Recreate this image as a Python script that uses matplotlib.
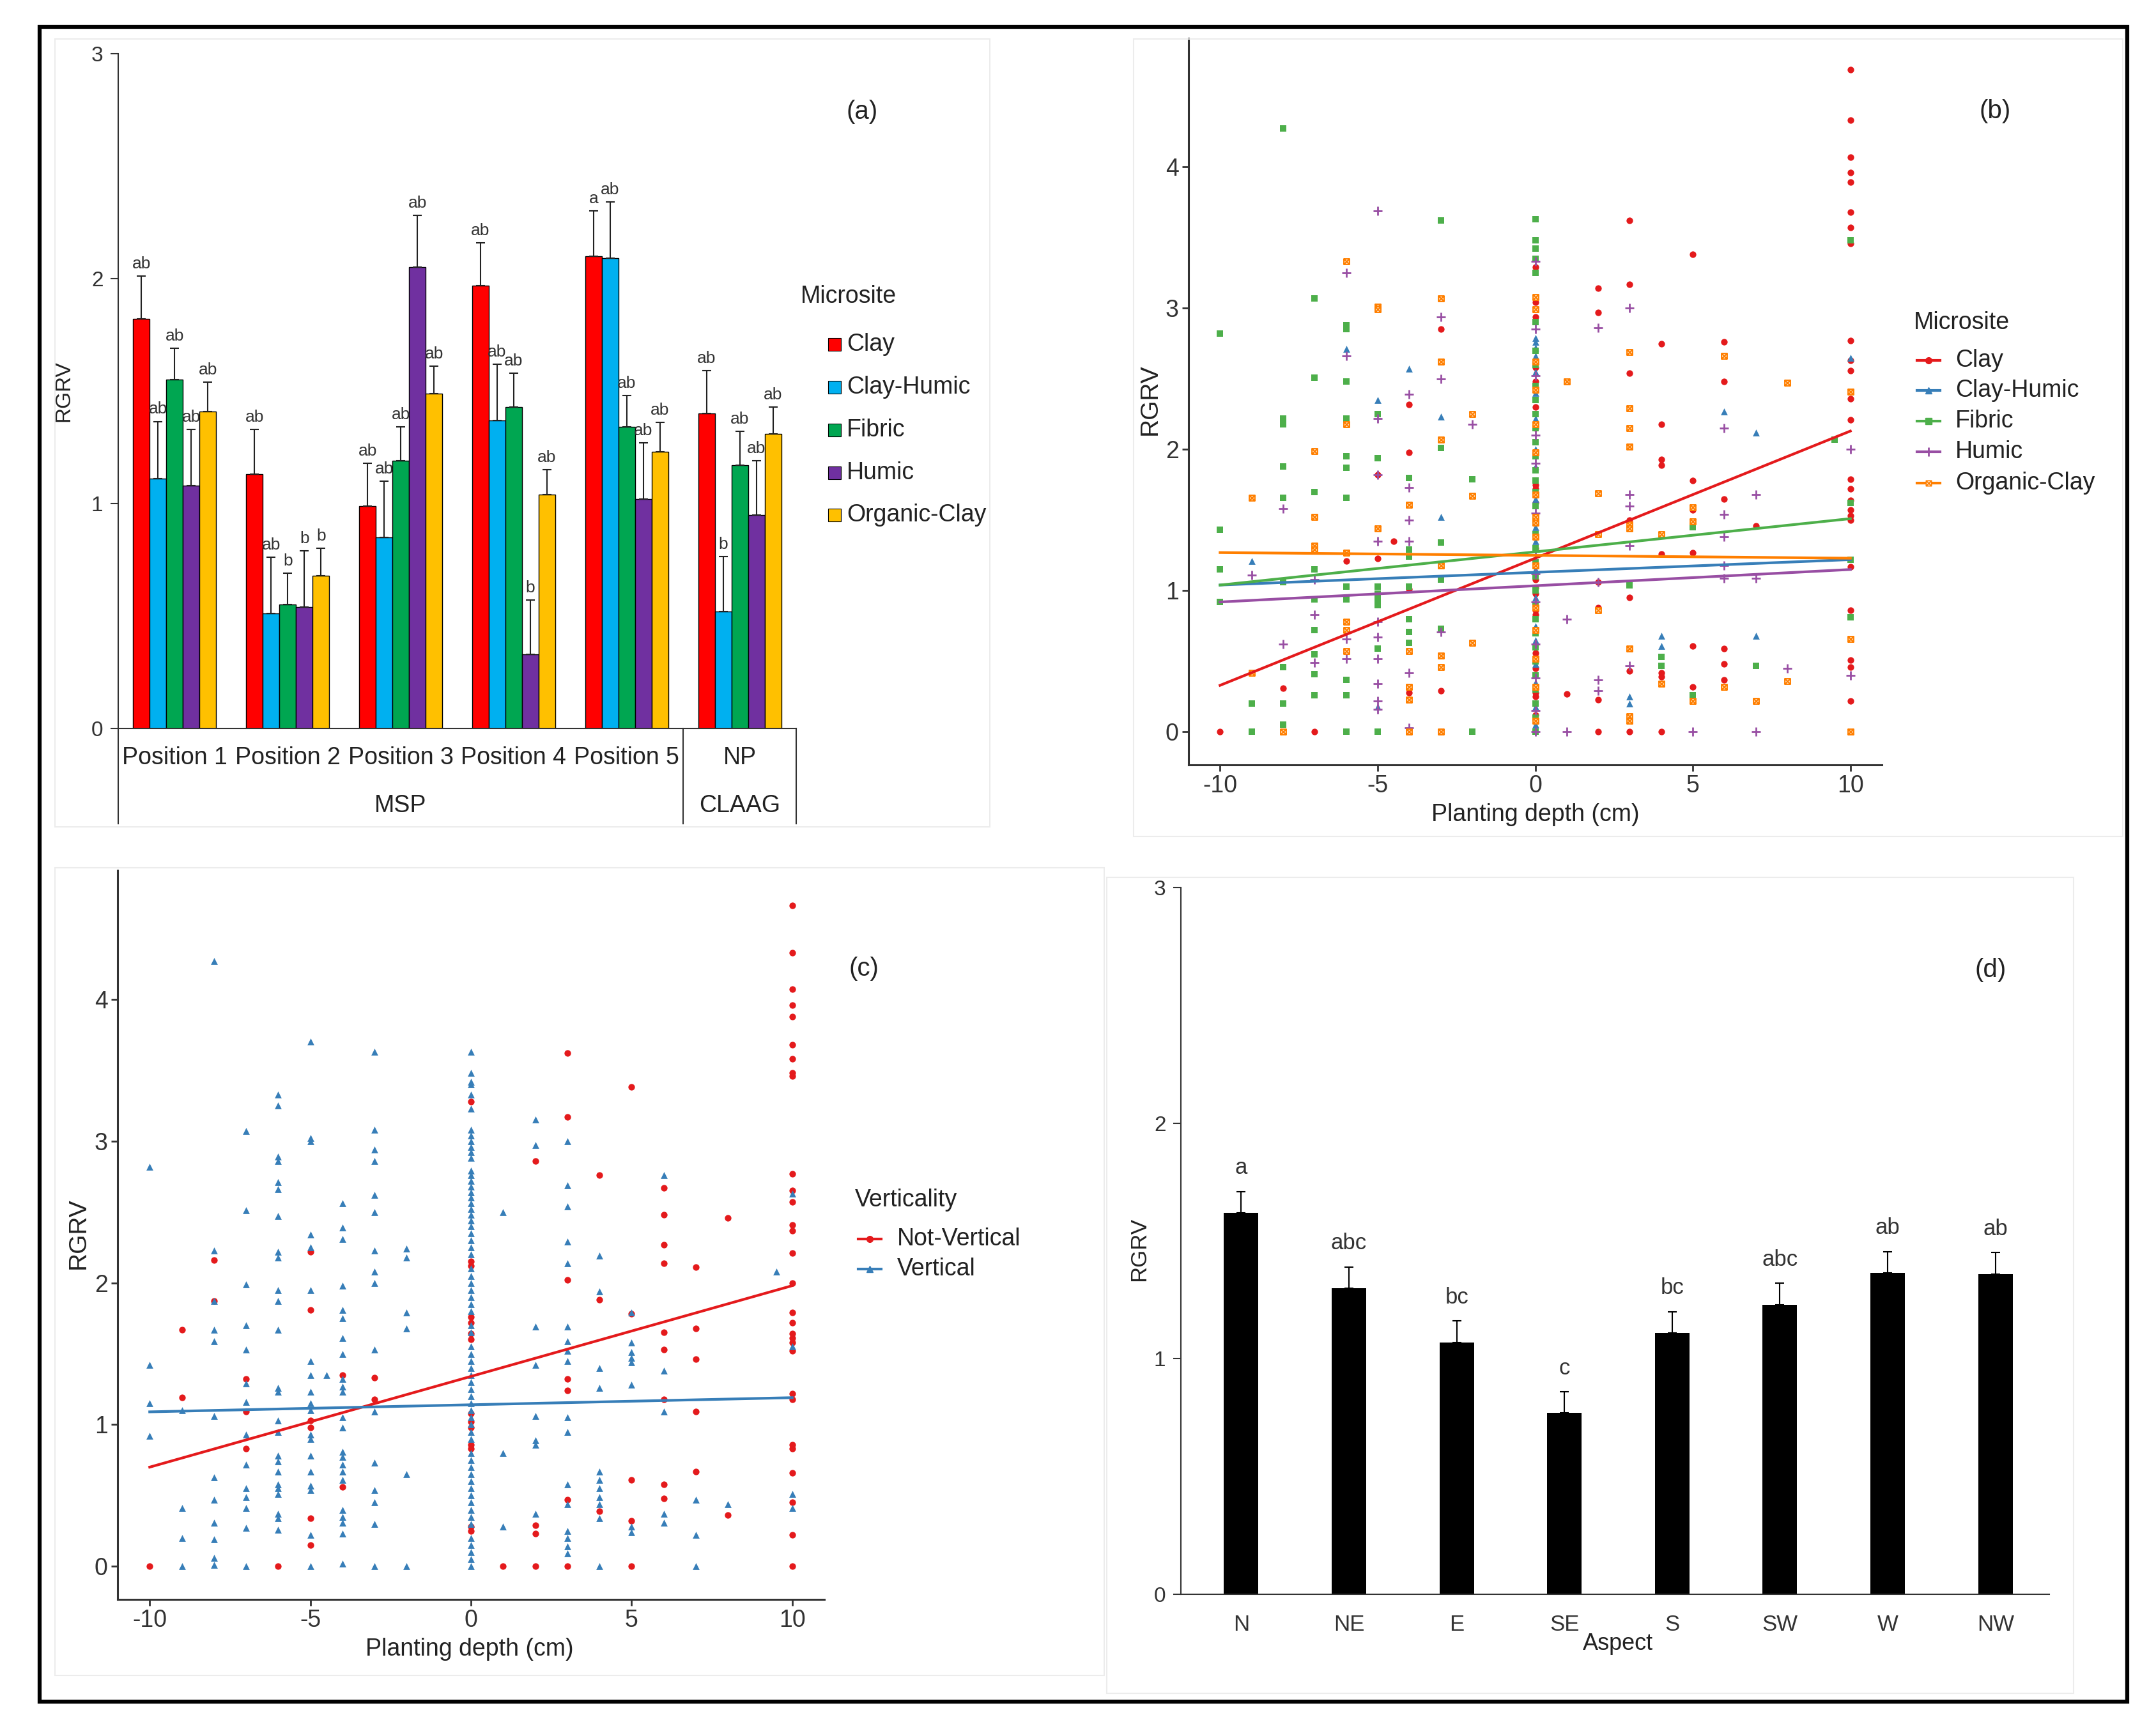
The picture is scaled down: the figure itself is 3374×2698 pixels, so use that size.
import matplotlib
matplotlib.use('Agg')
import matplotlib.pyplot as plt
from matplotlib.patches import Rectangle
from matplotlib.lines import Line2D
from matplotlib.path import Path
import matplotlib.transforms as mtransforms
import numpy as np

plt.rcParams['font.family'] = ['Liberation Sans', 'DejaVu Sans']
plt.rcParams['axes.unicode_minus'] = False

# ---------------- DATA ----------------
# Panel (a)
groups_a = ['Position 1', 'Position 2', 'Position 3', 'Position 4', 'Position 5', 'NP']
microsites = ['Clay', 'Clay-Humic', 'Fibric', 'Humic', 'Organic-Clay']
a_clay = [1.82, 1.13, 0.99, 1.97, 2.10, 1.40]
a_clayhumic = [1.11, 0.51, 0.85, 1.37, 2.09, 0.52]
a_fibric = [1.55, 0.55, 1.19, 1.43, 1.34, 1.17]
a_humic = [1.08, 0.54, 2.05, 0.33, 1.02, 0.95]
a_orgclay = [1.41, 0.68, 1.49, 1.04, 1.23, 1.31]
a_clay_err = [0.19, 0.20, 0.19, 0.19, 0.20, 0.19]
a_clayhumic_err = [0.255, 0.25, 0.25, 0.25, 0.25, 0.245]
a_fibric_err = [0.14, 0.14, 0.15, 0.15, 0.14, 0.15]
a_humic_err = [0.25, 0.25, 0.23, 0.24, 0.25, 0.24]
a_orgclay_err = [0.13, 0.12, 0.12, 0.11, 0.13, 0.12]
a_clay_let = ['ab', 'ab', 'ab', 'ab', 'a', 'ab']
a_clayhumic_let = ['ab', 'ab', 'ab', 'ab', 'ab', 'b']
a_fibric_let = ['ab', 'b', 'ab', 'ab', 'ab', 'ab']
a_humic_let = ['ab', 'b', 'ab', 'b', 'ab', 'ab']
a_orgclay_let = ['ab', 'b', 'ab', 'ab', 'ab', 'ab']

# Panel (b) scatter, by microsite
clay_x = [-10, -8, -7, -6, -5, -5, -4.5, -4, -4, -4, -4, -3, -3, -3,
          0, 0, 0, 0, 0, 0, 0, 0, 0, 0, 0, 0, 0, 0, 0, 0, 0, 0, 0, 0, 0,
          1, 2, 2, 2, 2, 2, 2, 3, 3, 3, 3, 3, 3, 3,
          4, 4, 4, 4, 4, 4, 4, 4, 5, 5, 5, 5, 5, 5, 6, 6, 6, 6, 6, 6, 7,
          10, 10, 10, 10, 10, 10, 10, 10, 10, 10, 10, 10, 10, 10, 10, 10, 10, 10, 10, 10, 10, 10, 10, 10]
clay_y = [0, 0.31, 0, 1.21, 1.82, 1.23, 1.35, 2.32, 1.98, 1.01, 0.28, 2.85, 0.29, 0,
          3.29, 3.04, 2.94, 2.58, 2.48, 2.30, 2.15, 1.75, 1.72, 1.62, 1.30, 1.08, 1.02, 0.98, 0.86, 0.83, 0.56, 0.45, 0.28, 0.25, 0.12,
          0.27, 3.14, 2.97, 1.06, 0.88, 0.23, 0, 3.62, 3.17, 2.54, 1.50, 0.95, 0.43, 0,
          2.75, 2.18, 1.93, 1.89, 1.26, 0.42, 0.39, 0, 3.38, 1.78, 1.57, 1.27, 0.61, 0.32, 2.76, 2.48, 1.65, 0.59, 0.48, 0.37, 1.46,
          4.69, 4.33, 4.07, 3.96, 3.89, 3.68, 3.57, 3.46, 2.77, 2.63, 2.56, 2.36, 2.21, 1.79, 1.72, 1.64, 1.57, 1.53, 1.50, 1.17, 0.86, 0.51, 0.46, 0.22]
clayhumic_x = [-9, -6, -5, -5, -4, -3, -3,
               0, 0, 0, 0, 0, 0, 0, 0, 0, 0, 0, 0, 0, 0, 0, 0, 0, 0, 0, 0,
               3, 3, 4, 4, 6, 7, 7, 10]
clayhumic_y = [1.21, 2.71, 2.35, 0.18, 2.57, 2.23, 1.52,
               2.79, 2.76, 2.72, 2.66, 2.55, 2.40, 2.22, 2.00, 1.88, 1.65, 1.45, 1.35, 1.15, 0.95, 0.75, 0.65, 0.48, 0.35, 0.18, 0.05,
               0.25, 0.20, 0.68, 0.61, 2.27, 2.12, 0.68, 2.65]
fibric_x = [-10, -10, -10, -10, -9, -9,
            -8, -8, -8, -8, -8, -8, -8, -8, -8,
            -7, -7, -7, -7, -7, -7, -7, -7, -7,
            -6, -6, -6, -6, -6, -6, -6, -6, -6, -6, -6, -6,
            -5, -5, -5, -5, -5, -5, -5, -5,
            -4, -4, -4, -4, -4, -4, -4, -3, -3, -3, -3, -3, -2, -2,
            0, 0, 0, 0, 0, 0, 0, 0, 0, 0, 0, 0, 0, 0, 0, 0, 0, 0, 0, 0, 0, 0, 0, 0, 0, 0, 0, 0, 0, 0, 0, 0, 0, 0,
            3, 4, 4, 5, 5, 7, 9.5, 10, 10, 10, 10]
fibric_y = [2.82, 1.43, 1.15, 0.92, 0.20, 0,
            4.27, 2.22, 2.18, 1.88, 1.66, 1.06, 0.46, 0.20, 0.05,
            3.07, 2.51, 1.70, 1.15, 0.94, 0.72, 0.55, 0.41, 0.26,
            2.88, 2.85, 2.48, 2.22, 1.95, 1.87, 1.66, 1.03, 0.94, 0.37, 0.26, 0,
            2.25, 1.94, 1.03, 0.98, 0.94, 0.90, 0.59, 0,
            1.80, 1.29, 1.24, 1.03, 0.80, 0.71, 0.63, 3.62, 2.01, 1.34, 1.08, 0.73, 1.79, 0,
            3.63, 3.48, 3.42, 3.35, 3.25, 2.90, 2.70, 2.60, 2.45, 2.35, 2.25, 2.15, 2.05, 1.95, 1.85, 1.78, 1.70, 1.60,
            1.50, 1.40, 1.30, 1.20, 1.10, 1.00, 0.90, 0.80, 0.70, 0.60, 0.50, 0.40, 0.30, 0.20, 0.10, 0.0,
            1.04, 0.53, 0.47, 1.45, 0.26, 0.47, 2.07, 3.48, 1.62, 1.22, 0.81]
humic_x = [-9, -8, -8, -7, -7, -7, -6, -6, -6, -6,
           -5, -5, -5, -5, -5, -5, -5, -5, -5, -5,
           -4, -4, -4, -4, -4, -4, -3, -3, -3, -2,
           0, 0, 0, 0, 0, 0, 0, 0, 0, 0, 0, 0, 0,
           1, 1, 2, 2, 2, 2, 3, 3, 3, 3, 3, 5, 6, 6, 6, 6, 6, 7, 7, 7, 8, 10, 10]
humic_y = [1.11, 1.58, 0.62, 1.08, 0.83, 0.49, 3.25, 2.66, 0.66, 0.52,
           3.69, 2.22, 1.82, 1.35, 0.78, 0.67, 0.52, 0.34, 0.22, 0.16,
           2.39, 1.73, 1.50, 1.35, 0.42, 0.03, 2.94, 2.50, 0.71, 2.18,
           3.33, 2.85, 2.52, 2.10, 1.90, 1.55, 1.25, 1.12, 0.92, 0.62, 0.38, 0.15, 0.0,
           0.80, 0, 2.86, 1.06, 0.37, 0.29, 3.00, 1.68, 1.60, 1.32, 0.47, 0, 2.15, 1.54, 1.38, 1.18, 1.09, 1.68, 1.09, 0, 0.45, 2.00, 0.40]
orgclay_x = [-9, -9, -8, -7, -7, -7, -7, -6, -6, -6, -6, -6, -6, -5, -5, -5,
             -4, -4, -4, -4, -4, -3, -3, -3, -3, -3, -3, -3, -2, -2, -2,
             0, 0, 0, 0, 0, 0, 0, 0, 0, 0, 0, 0, 0, 0, 0, 0,
             1, 2, 2, 2, 3, 3, 3, 3, 3, 3, 3, 3, 3, 4, 4, 5, 5, 5, 6, 6, 7, 8, 8, 10, 10, 10]
orgclay_y = [1.66, 0.42, 0, 1.99, 1.52, 1.32, 1.29, 3.33, 2.18, 1.27, 0.78, 0.72, 0.57, 3.01, 2.99, 1.44,
             1.61, 0.57, 0.32, 0.23, 0, 3.07, 2.62, 2.07, 1.18, 0.54, 0.46, 0, 2.25, 1.67, 0.63,
             3.08, 2.99, 2.62, 2.42, 2.18, 1.98, 1.68, 1.52, 1.48, 1.38, 1.18, 0.88, 0.72, 0.52, 0.32, 0.08,
             2.48, 1.69, 1.40, 0.86, 2.69, 2.29, 2.15, 2.02, 1.47, 1.44, 0.59, 0.11, 0.08, 1.40, 0.34, 1.59, 1.49, 0.22,
             2.66, 0.32, 0.22, 2.47, 0.36, 2.41, 0.66, 0]
b_fit_intercept = [1.23, 1.13, 1.275, 1.035, 1.25]
b_fit_slope = [0.090, 0.009, 0.0235, 0.0115, -0.002]

# Panel (c) scatter, by verticality
nv_x = [-10, -9, -9, -8, -8, -7, -7, -7, -6, -5, -5, -5, -5, -5, -5, -4, -4, -3, -3,
        0, 0, 0, 0, 0, 0, 0, 0, 0, 0, 0, 0, 0, 0,
        1, 2, 2, 2, 2, 3, 3, 3, 3, 3, 3, 3, 4, 4, 4, 5, 5, 5, 5, 5,
        6, 6, 6, 6, 6, 6, 6, 6, 6, 7, 7, 7, 7, 7, 8, 8,
        10, 10, 10, 10, 10, 10, 10, 10, 10, 10, 10, 10, 10, 10, 10, 10, 10, 10, 10, 10, 10, 10, 10, 10, 10, 10, 10, 10, 10, 10]
nv_y = [0, 1.67, 1.19, 2.16, 1.87, 1.32, 1.09, 0.83, 0, 2.22, 1.81, 1.03, 0.98, 0.34, 0.15, 1.35, 0.56, 1.33, 1.18,
        3.28, 2.15, 2.12, 1.76, 1.72, 1.64, 1.60, 1.08, 1.02, 0.98, 0.86, 0.83, 0.28, 0.25,
        0, 2.86, 0.29, 0.23, 0, 3.62, 3.17, 2.02, 1.32, 1.24, 0.47, 0, 2.76, 1.88, 0.39, 3.38, 1.78, 0.61, 0.32, 0,
        2.67, 2.48, 2.27, 2.14, 1.65, 1.53, 1.18, 0.58, 0.48, 2.11, 1.68, 1.46, 1.09, 0.67, 2.46, 0.36,
        4.66, 4.33, 4.07, 3.96, 3.88, 3.68, 3.58, 3.48, 3.46, 2.77, 2.65, 2.57, 2.41, 2.37, 2.21, 2.00,
        1.79, 1.72, 1.64, 1.61, 1.58, 1.52, 1.22, 1.18, 0.86, 0.83, 0.66, 0.45, 0.22, 0]
v_x = [-10, -10, -10, -10, -9, -9, -9, -9,
       -8, -8, -8, -8, -8, -8, -8, -8, -8, -8, -8, -8,
       -7, -7, -7, -7, -7, -7, -7, -7, -7, -7, -7, -7, -7, -7,
       -6, -6, -6, -6, -6, -6, -6, -6, -6, -6, -6, -6, -6, -6, -6, -6, -6, -6, -6, -6, -6, -6, -6, -6, -6,
       -5, -5, -5, -5, -5, -5, -5, -5, -5, -5, -5, -5, -5, -5, -5, -5, -5, -5, -5, -4.5,
       -4, -4, -4, -4, -4, -4, -4, -4, -4, -4, -4, -4, -4, -4, -4, -4, -4, -4, -4, -4, -4, -4, -4,
       -3, -3, -3, -3, -3, -3, -3, -3, -3, -3, -3, -3, -3, -3, -3, -3,
       -2, -2, -2, -2, -2, -2,
       0, 0, 0, 0, 0, 0, 0, 0, 0, 0, 0, 0, 0, 0, 0, 0, 0, 0, 0, 0, 0, 0, 0, 0, 0, 0, 0, 0, 0, 0, 0, 0, 0,
       0, 0, 0, 0, 0, 0, 0, 0, 0, 0, 0, 0, 0, 0, 0, 0, 0, 0, 0, 0, 0, 0, 0, 0, 0, 0, 0, 0, 0, 0, 0, 0, 0,
       1, 1, 1, 2, 2, 2, 2, 2, 2, 2, 2,
       3, 3, 3, 3, 3, 3, 3, 3, 3, 3, 3, 3, 3, 3, 3, 3, 3,
       4, 4, 4, 4, 4, 4, 4, 4, 4, 4, 4, 5, 5, 5, 5, 5, 5, 5, 5,
       6, 6, 6, 6, 6, 7, 7, 7, 8, 9.5, 10, 10, 10, 10]
v_y = [2.82, 1.42, 1.15, 0.92, 1.10, 0.41, 0.20, 0,
       4.27, 2.23, 1.87, 1.67, 1.59, 1.06, 0.63, 0.47, 0.31, 0.19, 0.06, 0.01,
       3.07, 2.51, 1.99, 1.70, 1.53, 1.29, 1.16, 0.93, 0.72, 0.55, 0.49, 0.41, 0.27, 0,
       3.33, 3.25, 2.89, 2.86, 2.71, 2.66, 2.47, 2.22, 2.18, 1.95, 1.87, 1.67, 1.26, 1.23, 1.03, 0.95, 0.78, 0.74, 0.67,
       0.58, 0.55, 0.51, 0.37, 0.34, 0.26,
       3.70, 3.02, 3.00, 2.34, 2.25, 1.95, 1.45, 1.35, 1.23, 1.15, 1.10, 0.93, 0.90, 0.78, 0.67, 0.57, 0.54, 0.22, 0, 1.35,
       2.56, 2.39, 2.31, 1.98, 1.81, 1.75, 1.61, 1.50, 1.32, 1.27, 1.23, 1.05, 0.98, 0.81, 0.77, 0.72, 0.67, 0.61, 0.40,
       0.35, 0.31, 0.23, 0.02,
       3.63, 3.08, 2.94, 2.86, 2.62, 2.50, 2.23, 2.08, 2.00, 1.53, 1.09, 0.73, 0.54, 0.45, 0.30, 0,
       2.24, 2.18, 1.79, 1.68, 0.65, 0,
       3.63, 3.48, 3.42, 3.40, 3.33, 3.23, 3.08, 3.04, 3.00, 2.96, 2.92, 2.88, 2.79, 2.76, 2.72, 2.68, 2.64, 2.60, 2.56,
       2.52, 2.48, 2.44, 2.40, 2.35, 2.30, 2.25, 2.20, 2.10, 2.05, 2.00, 1.95, 1.90, 1.85,
       1.80, 1.70, 1.65, 1.55, 1.50, 1.45, 1.40, 1.35, 1.30, 1.25, 1.20, 1.15, 1.10, 1.05, 1.00, 0.95, 0.90, 0.80,
       0.75, 0.70, 0.65, 0.60, 0.55, 0.50, 0.45, 0.40, 0.35, 0.30, 0.20, 0.15, 0.10, 0.05, 0.0,
       2.50, 0.80, 0.28, 3.15, 2.97, 1.69, 1.42, 1.06, 0.89, 0.86, 0.37,
       3.00, 2.69, 2.54, 2.29, 2.14, 1.69, 1.59, 1.52, 1.45, 1.05, 0.95, 0.58, 0.44, 0.25, 0.20, 0.14, 0.09,
       2.19, 1.94, 1.40, 1.26, 0.67, 0.61, 0.55, 0.49, 0.44, 0.34, 0, 1.79, 1.58, 1.51, 1.47, 1.44, 1.28, 0.28, 0.24,
       2.76, 1.38, 1.09, 0.37, 0.31, 0.47, 0.22, 0, 0.44, 2.08, 2.63, 1.55, 0.51, 0.41]
verticality = ['Not-Vertical', 'Vertical']
c_fit_intercept = [1.34, 1.14]
c_fit_slope = [0.064, 0.005]

# Panel (d)
aspects = ['N', 'NE', 'E', 'SE', 'S', 'SW', 'W', 'NW']
d_vals = [1.62, 1.30, 1.07, 0.77, 1.11, 1.23, 1.365, 1.36]
d_err = [0.09, 0.09, 0.09, 0.09, 0.09, 0.09, 0.09, 0.09]
d_letters = ['a', 'abc', 'bc', 'c', 'bc', 'abc', 'ab', 'ab']

# ---------------- STYLE / LAYOUT ----------------
W, H = 3374, 2698
fig = plt.figure(figsize=(W / 100, H / 100), dpi=100)
fig.patch.set_facecolor('white')


def fx(px):
    return px / W


def fy(py):
    return 1 - py / H


def axes_px(left, top, right, bottom):
    return fig.add_axes([fx(left), fy(bottom), (right - left) / W, (bottom - top) / H])


# outer frame and faint panel boxes
fig.add_artist(Rectangle((fx(62), fy(2663)), (3329 - 62) / W, (2663 - 42) / H, transform=fig.transFigure,
                         fill=False, edgecolor='black', lw=4.5))
for (l, t, r, b) in [(86, 61, 1549, 1294), (1774, 61, 3322, 1309), (86, 1358, 1728, 2622), (1732, 1373, 3245, 2650)]:
    fig.add_artist(Rectangle((fx(l), fy(b)), (r - l) / W, (b - t) / H, transform=fig.transFigure,
                             fill=False, edgecolor='#ececec', lw=1.5))

TXT = '#222222'

# ---------------- Panel (a) ----------------
bar_colors_a = ['#FF0000', '#00B0F0', '#00A651', '#7030A0', '#FFC000']
axa = axes_px(185, 84, 1246, 1140)
vals_a = [a_clay, a_clayhumic, a_fibric, a_humic, a_orgclay]
errs_a = [a_clay_err, a_clayhumic_err, a_fibric_err, a_humic_err, a_orgclay_err]
lets_a = [a_clay_let, a_clayhumic_let, a_fibric_let, a_humic_let, a_orgclay_let]
gx = np.arange(len(groups_a))
bw = 0.147
for i in range(len(microsites)):
    xs = gx + (i - 2) * bw
    axa.bar(xs, vals_a[i], width=bw, color=bar_colors_a[i], edgecolor='black', linewidth=1.0, zorder=2)
    axa.errorbar(xs, vals_a[i], yerr=[np.zeros(len(gx)), errs_a[i]], fmt='none', ecolor='#222222',
                 elinewidth=1.5, capsize=5, capthick=1.5, zorder=3)
    for x, v, e, l in zip(xs, vals_a[i], errs_a[i], lets_a[i]):
        axa.text(x, v + e + 0.02, l, ha='center', va='bottom', fontsize=19, color='#333333')
axa.set_xlim(-0.5, 5.5)
axa.set_ylim(0, 3)
axa.set_yticks([0, 1, 2, 3])
axa.set_xticks([])
axa.tick_params(axis='y', direction='out', length=9, width=1.5, labelsize=24, pad=8, colors='#333333')
for s in ['top', 'right']:
    axa.spines[s].set_visible(False)
axa.spines['left'].set_linewidth(1.5)
axa.spines['bottom'].set_linewidth(1.5)
axa.spines['left'].set_color('#333333')
axa.spines['bottom'].set_color('#333333')
trans_a = mtransforms.blended_transform_factory(axa.transData, axa.transAxes)
for xv in [-0.5, 4.5, 5.5]:
    axa.add_line(Line2D([xv, xv], [0, -0.141], transform=trans_a, color='#333333', lw=1.5, clip_on=False))
for x, g in zip(gx, groups_a):
    axa.text(x, -0.044, g, transform=trans_a, ha='center', va='center', fontsize=27, color=TXT)
axa.text(2.0, -0.115, 'MSP', transform=trans_a, ha='center', va='center', fontsize=27, color=TXT)
axa.text(5.0, -0.115, 'CLAAG', transform=trans_a, ha='center', va='center', fontsize=27, color=TXT)
fig.text(fx(100), fy(612), 'RGRV', rotation=90, ha='center', va='center', fontsize=24, color=TXT)
fig.text(fx(1349), fy(175), '(a)', ha='center', va='center', fontsize=29, color=TXT)
# legend (a)
fig.text(fx(1253), fy(464), 'Microsite', ha='left', va='center', fontsize=27, color=TXT)
for i, (m, y) in enumerate(zip(microsites, [539, 606, 673, 740, 806])):
    fig.add_artist(Rectangle((fx(1296), fy(y + 10)), 20 / W, 20 / H, transform=fig.transFigure,
                             facecolor=bar_colors_a[i], edgecolor='black', lw=0.8))
    fig.text(fx(1325), fy(y), m, ha='left', va='center', fontsize=27, color=TXT)

# ---------------- Panel (b) ----------------
set1 = ['#E41A1C', '#377EB8', '#4DAF4A', '#984EA3', '#FF7F00']
boxx = Path([(-1, -1), (1, -1), (1, 1), (-1, 1), (-1, -1), (-1, -1), (1, 1), (-1, 1), (1, -1)],
            [Path.MOVETO, Path.LINETO, Path.LINETO, Path.LINETO, Path.CLOSEPOLY,
             Path.MOVETO, Path.LINETO, Path.MOVETO, Path.LINETO])


def style_gg(ax):
    for s in ['top', 'right']:
        ax.spines[s].set_visible(False)
    for s in ['left', 'bottom']:
        ax.spines[s].set_linewidth(2.2)
        ax.spines[s].set_color('#333333')
    ax.tick_params(direction='out', length=7, width=2, labelsize=27, colors='#333333', pad=4)
    ax.set_xlim(-11, 11)
    ax.set_ylim(-0.233, 4.91)
    ax.set_xticks([-10, -5, 0, 5, 10])
    ax.set_yticks([0, 1, 2, 3, 4])


axb = axes_px(1860, 60, 2945, 1197)
style_gg(axb)
pts_b = [(clay_x, clay_y), (clayhumic_x, clayhumic_y), (fibric_x, fibric_y), (humic_x, humic_y), (orgclay_x, orgclay_y)]
markers_b = ['o', '^', 's', '+', boxx]
sizes_b = [55, 60, 42, 95, 40]
for i, (xs, ys) in enumerate(pts_b):
    if i == 4:
        axb.scatter(xs, ys, marker=markers_b[i], s=sizes_b[i], facecolors='#FFE2C4', edgecolors=set1[i],
                    linewidths=1.5, zorder=2)
    elif i == 3:
        axb.scatter(xs, ys, marker='+', s=sizes_b[i], c=set1[i], linewidths=2, zorder=2)
    else:
        axb.scatter(xs, ys, marker=markers_b[i], s=sizes_b[i], c=set1[i], linewidths=0, zorder=2)
allx_b = np.concatenate([np.asarray(p[0], float) for p in pts_b])
xr = np.array([allx_b.min(), allx_b.max()])
for i in range(5):
    axb.plot(xr, b_fit_intercept[i] + b_fit_slope[i] * xr, color=set1[i], lw=3, zorder=3)
fig.text(fx(2403), fy(1275), 'Planting depth (cm)', ha='center', va='center', fontsize=27, color=TXT)
fig.text(fx(1800), fy(625), 'RGRV', rotation=90, ha='center', va='center', fontsize=28, color=TXT)
fig.text(fx(3122), fy(174), '(b)', ha='center', va='center', fontsize=29, color=TXT)
fig.text(fx(2995), fy(505), 'Microsite', ha='left', va='center', fontsize=27, color=TXT)
for i, (m, y) in enumerate(zip(microsites, [564, 611, 659, 707, 756])):
    fig.add_artist(Line2D([fx(3000), fx(3036)], [fy(y), fy(y)], transform=fig.transFigure, color=set1[i], lw=3))
    if i == 4:
        fig.add_artist(Line2D([fx(3018)], [fy(y)], transform=fig.transFigure, marker=boxx, markersize=6,
                              mfc='#FFE2C4', mec=set1[i], mew=1.2, ls='none'))
    elif i == 3:
        fig.add_artist(Line2D([fx(3018)], [fy(y)], transform=fig.transFigure, marker='+', markersize=10,
                              mec=set1[i], mew=2, ls='none'))
    else:
        fig.add_artist(Line2D([fx(3018)], [fy(y)], transform=fig.transFigure, marker=markers_b[i], markersize=7,
                              mfc=set1[i], mec=set1[i], ls='none'))
    fig.text(fx(3060), fy(y), m, ha='left', va='center', fontsize=27, color=TXT)

# ---------------- Panel (c) ----------------
axc = axes_px(184, 1362, 1290, 2503)
style_gg(axc)
col_c = ['#E41A1C', '#377EB8']
axc.scatter(nv_x, nv_y, marker='o', s=55, c=col_c[0], linewidths=0, zorder=2)
axc.scatter(v_x, v_y, marker='^', s=60, c=col_c[1], linewidths=0, zorder=2)
xx = np.array([min(nv_x + v_x), max(nv_x + v_x)], float)
for i in range(2):
    axc.plot(xx, c_fit_intercept[i] + c_fit_slope[i] * xx, color=col_c[i], lw=3, zorder=3)
fig.text(fx(735), fy(2581), 'Planting depth (cm)', ha='center', va='center', fontsize=27, color=TXT)
fig.text(fx(123), fy(1930), 'RGRV', rotation=90, ha='center', va='center', fontsize=28, color=TXT)
fig.text(fx(1352), fy(1516), '(c)', ha='center', va='center', fontsize=29, color=TXT)
fig.text(fx(1338), fy(1878), 'Verticality', ha='left', va='center', fontsize=27, color=TXT)
for i, (m, y) in enumerate(zip(verticality, [1939, 1986])):
    fig.add_artist(Line2D([fx(1343), fx(1379)], [fy(y), fy(y)], transform=fig.transFigure, color=col_c[i], lw=3))
    fig.add_artist(Line2D([fx(1361)], [fy(y)], transform=fig.transFigure, marker=['o', '^'][i], markersize=7,
                          mfc=col_c[i], mec=col_c[i], ls='none'))
    fig.text(fx(1404), fy(y), m, ha='left', va='center', fontsize=27, color=TXT)

# ---------------- Panel (d) ----------------
axd = axes_px(1848, 1389, 3207, 2495)
xd = np.arange(len(aspects))
axd.bar(xd, d_vals, width=0.32, color='black', zorder=2)
axd.errorbar(xd, d_vals, yerr=[np.zeros(len(xd)), d_err], fmt='none', ecolor='black', elinewidth=1.5,
             capsize=5, capthick=1.5, zorder=3)
for x, v, e, l in zip(xd, d_vals, d_err, d_letters):
    axd.text(x, v + e + 0.055, l, ha='center', va='bottom', fontsize=25, color='#333333')
axd.set_xlim(-0.56, 7.5)
axd.set_ylim(0, 3)
axd.set_yticks([0, 1, 2, 3])
axd.set_xticks(xd)
axd.set_xticklabels(aspects)
for s in ['top', 'right']:
    axd.spines[s].set_visible(False)
for s in ['left', 'bottom']:
    axd.spines[s].set_linewidth(1.5)
    axd.spines[s].set_color('#333333')
axd.tick_params(axis='y', direction='out', length=9, width=1.5, labelsize=24, pad=8, colors='#333333')
axd.tick_params(axis='x', length=0, labelsize=25, pad=22, colors='#333333')
fig.text(fx(2532), fy(2572), 'Aspect', ha='center', va='center', fontsize=26, color=TXT)
fig.text(fx(1783), fy(1955), 'RGRV', rotation=90, ha='center', va='center', fontsize=25, color=TXT)
fig.text(fx(3115), fy(1518), '(d)', ha='center', va='center', fontsize=29, color=TXT)

fig.savefig('out.png', dpi=100, facecolor='white')
